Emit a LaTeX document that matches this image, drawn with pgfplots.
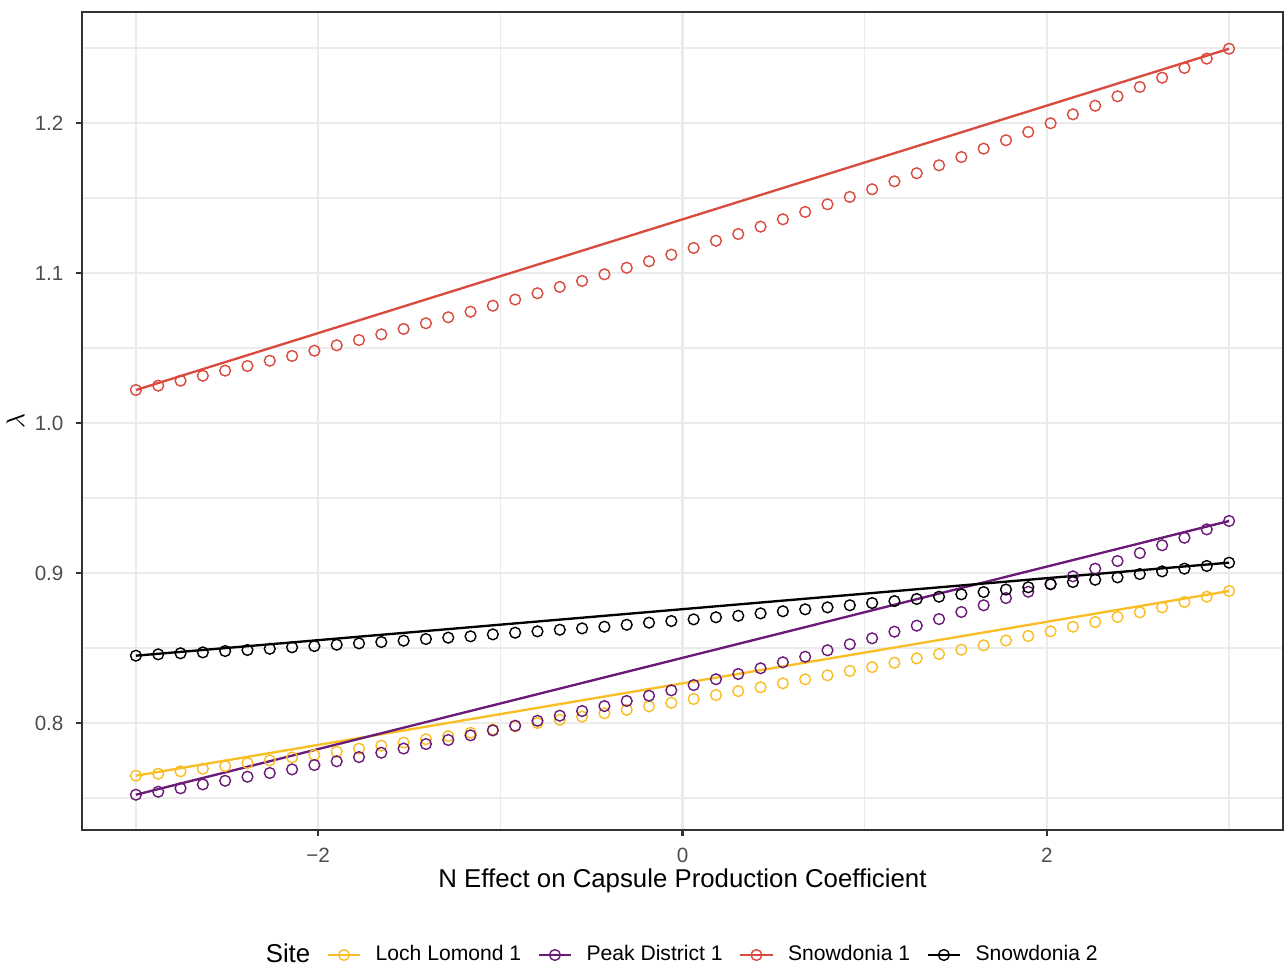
\documentclass[border=0pt]{standalone}
\usepackage{fontspec}
\setmainfont{Liberation Sans}
\usepackage{pgfplots}
\usepackage{pgfplotstable}
\pgfplotsset{compat=1.18}
\definecolor{cLoch}{HTML}{F9BE25}
\definecolor{cPeak}{HTML}{6A1B78}
\definecolor{cSnowA}{HTML}{D94A3F}
\definecolor{cSnowB}{HTML}{000000}
\definecolor{grid92}{HTML}{EBEBEB}
\definecolor{gray20}{HTML}{333333}
\definecolor{gray30}{HTML}{4D4D4D}

\pgfplotstableread{
x loch peak snowa snowb
-3 0.7649 0.7522 1.0220 0.8449
-2.87755 0.7662 0.7542 1.0249 0.8458
-2.75510 0.7678 0.7565 1.0282 0.8465
-2.63265 0.7695 0.7591 1.0315 0.8471
-2.51020 0.7713 0.7615 1.0349 0.8480
-2.38776 0.7733 0.7642 1.0380 0.8487
-2.26531 0.7751 0.7667 1.0415 0.8495
-2.14286 0.7771 0.7691 1.0447 0.8505
-2.02041 0.7787 0.7720 1.0482 0.8513
-1.89796 0.7809 0.7745 1.0518 0.8522
-1.77551 0.7829 0.7773 1.0553 0.8531
-1.65306 0.7849 0.7802 1.0591 0.8540
-1.53061 0.7870 0.7830 1.0627 0.8549
-1.40816 0.7892 0.7860 1.0665 0.8560
-1.28571 0.7913 0.7887 1.0705 0.8569
-1.16327 0.7935 0.7918 1.0742 0.8578
-1.04082 0.7957 0.7951 1.0782 0.8591
-0.91837 0.7978 0.7982 1.0823 0.8602
-0.79592 0.8000 0.8015 1.0865 0.8611
-0.67347 0.8021 0.8049 1.0907 0.8622
-0.55102 0.8043 0.8080 1.0947 0.8631
-0.42857 0.8065 0.8113 1.0991 0.8642
-0.30612 0.8088 0.8147 1.1035 0.8655
-0.18367 0.8111 0.8182 1.1078 0.8669
-0.06122 0.8135 0.8218 1.1122 0.8680
0.06122 0.8160 0.8253 1.1167 0.8691
0.18367 0.8187 0.8292 1.1215 0.8705
0.30612 0.8213 0.8327 1.1260 0.8715
0.42857 0.8238 0.8365 1.1309 0.8731
0.55102 0.8265 0.8405 1.1358 0.8745
0.67347 0.8291 0.8442 1.1407 0.8758
0.79592 0.8318 0.8485 1.1458 0.8771
0.91837 0.8347 0.8525 1.1507 0.8785
1.04082 0.8373 0.8565 1.1558 0.8800
1.16327 0.8402 0.8609 1.1611 0.8813
1.28571 0.8431 0.8649 1.1665 0.8827
1.40816 0.8460 0.8693 1.1718 0.8842
1.53061 0.8489 0.8740 1.1773 0.8858
1.65306 0.8518 0.8785 1.1829 0.8873
1.77551 0.8550 0.8833 1.1885 0.8890
1.89796 0.8580 0.8875 1.1940 0.8905
2.02041 0.8611 0.8927 1.1998 0.8925
2.14286 0.8642 0.8978 1.2058 0.8940
2.26531 0.8673 0.9029 1.2115 0.8955
2.38776 0.8707 0.9080 1.2178 0.8971
2.51020 0.8738 0.9133 1.2240 0.8993
2.63265 0.8771 0.9185 1.2302 0.9011
2.75510 0.8807 0.9235 1.2367 0.9029
2.87755 0.8842 0.9291 1.2429 0.9047
3 0.8880 0.9347 1.2495 0.9069
}\data

\pgfplotsset{
  keyimg/.style={legend image code/.code={
    \draw[mark repeat=2, mark phase=2, ##1] plot coordinates {(0pt,0pt) (7pt,0pt) (14pt,0pt)};}},
}

\begin{document}
\begin{tikzpicture}
\useasboundingbox (0,0) rectangle (548.35pt,411.9pt);
\begin{axis}[
  at={(34.96pt,57.99pt)}, anchor=south west,
  scale only axis, width=512.1pt, height=348.8pt,
  xmin=-3.296, xmax=3.296, ymin=0.7287, ymax=1.274,
  xtick={-2,0,2}, xticklabels={−2,0,2},
  ytick={0.8,0.9,1.0,1.1,1.2}, yticklabels={0.8,0.9,1.0,1.1,1.2},
  minor xtick={-3,-1,1,3},
  minor ytick={0.75,0.85,0.95,1.05,1.15,1.25},
  grid=both,
  major grid style={draw=grid92, line width=1.0pt},
  minor grid style={draw=grid92, line width=0.5pt},
  tick align=outside, tick pos=left,
  major tick length=2.75pt, minor tick length=0pt,
  tick style={draw=gray20, line width=1.0pt},
  axis line style={draw=gray20, line width=1.0pt},
  ticklabel style={font=\fontsize{8.8}{10}\selectfont, text=gray30},
  xticklabel style={anchor=north, inner sep=0pt},
  yticklabel style={anchor=east, inner sep=0pt},
  xticklabel shift=4.6pt, yticklabel shift=4.95pt,
  xlabel={N Effect on Capsule Production Coefficient},
  xlabel style={at={(axis description cs:0.5,0)}, anchor=north, inner sep=0pt, yshift=-16.2pt, font=\fontsize{11}{13}\selectfont},
  ylabel={$\lambda$},
  ylabel style={at={(axis description cs:-0.0475,0.5)}, anchor=south, inner sep=0pt, font=\fontsize{11}{13}\selectfont},
  legend style={at={(axis description cs:0.4935,-0.1528)}, anchor=center, draw=none, fill=none,
    font=\fontsize{9}{10}\selectfont, inner sep=0pt,
    nodes={inner sep=0pt},
    /tikz/every odd column/.append style={column sep=6.0pt},
    /tikz/every even column/.append style={column sep=6.9pt}},
  legend columns=-1,
]
\addlegendimage{empty legend}
\addlegendentry{\fontsize{11}{13}\selectfont Site}
\addlegendimage{keyimg, cLoch, line width=1.0pt, mark=o, mark size=2.3pt, mark options={line width=0.6pt, solid}}
\addlegendentry{Loch Lomond 1}
\addlegendimage{keyimg, cPeak, line width=1.0pt, mark=o, mark size=2.3pt, mark options={line width=0.6pt, solid}}
\addlegendentry{Peak District 1}
\addlegendimage{keyimg, cSnowA, line width=1.0pt, mark=o, mark size=2.3pt, mark options={line width=0.6pt, solid}}
\addlegendentry{Snowdonia 1}
\addlegendimage{keyimg, cSnowB, line width=1.0pt, mark=o, mark size=2.3pt, mark options={line width=0.6pt, solid}}
\addlegendentry{Snowdonia 2}

\addplot[cLoch, line width=1.0pt, forget plot] coordinates {(-3,0.7649) (3,0.8880)};
\addplot[cLoch, only marks, mark=o, mark size=2.3pt, mark options={line width=0.6pt}, forget plot] table[x=x,y=loch]{\data};
\addplot[cPeak, line width=1.0pt, forget plot] coordinates {(-3,0.7522) (3,0.9347)};
\addplot[cPeak, only marks, mark=o, mark size=2.3pt, mark options={line width=0.6pt}, forget plot] table[x=x,y=peak]{\data};
\addplot[cSnowA, line width=1.0pt, forget plot] coordinates {(-3,1.0220) (3,1.2495)};
\addplot[cSnowA, only marks, mark=o, mark size=2.3pt, mark options={line width=0.6pt}, forget plot] table[x=x,y=snowa]{\data};
\addplot[cSnowB, line width=1.0pt, forget plot] coordinates {(-3,0.8449) (3,0.9069)};
\addplot[cSnowB, only marks, mark=o, mark size=2.3pt, mark options={line width=0.6pt}, forget plot] table[x=x,y=snowb]{\data};
\end{axis}
\end{tikzpicture}
\end{document}
